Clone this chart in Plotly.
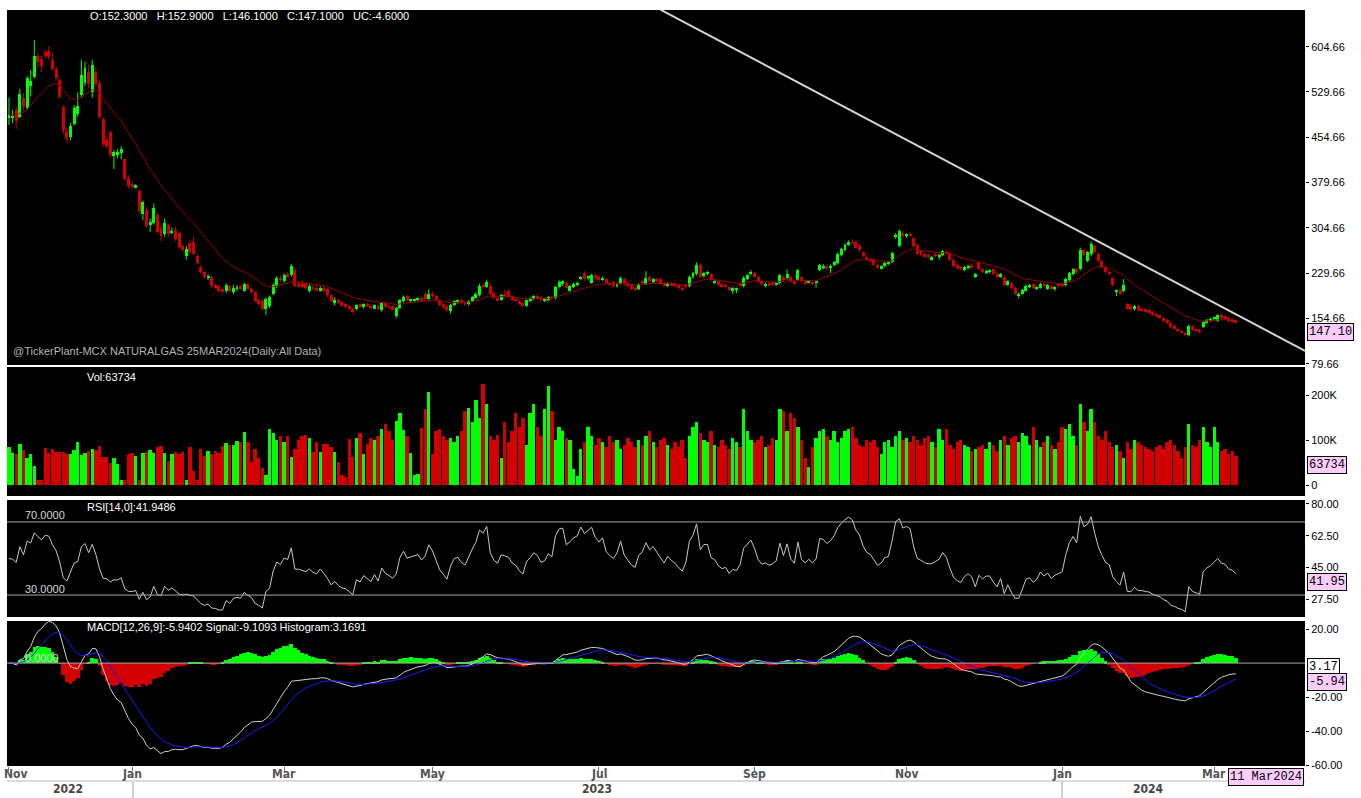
import numpy as np
import plotly.graph_objects as go
from plotly.subplots import make_subplots

# ---------------- data (daily bars, index 0 = mid Nov 2022 ... 339 = 11 Mar 2024) -------------
open_ = [
    486, 488, 500, 489, 520, 503, 540, 555, 590, 585,
    596, 598, 583, 568, 550, 505, 465, 455, 477, 493,
    525, 545, 562, 530, 563, 545, 485, 450, 463, 423,
    425, 428, 418, 388, 378, 372, 365, 328, 335, 310,
    313, 326, 305, 294, 310, 297, 302, 296, 274, 258,
    280, 282, 258, 240, 231, 222, 224, 210, 208, 203,
    200, 208, 199, 203, 208, 201, 211, 204, 198, 185,
    184, 170, 175, 196, 208, 222, 217, 228, 226, 235,
    212, 214, 211, 200, 207, 205, 201, 206, 203, 193,
    180, 186, 182, 178, 176, 171, 170, 178, 173, 179,
    176, 171, 176, 169, 181, 176, 175, 159, 172, 183,
    192, 184, 184, 186, 188, 196, 187, 195, 192, 185,
    178, 175, 167, 177, 182, 185, 181, 178, 184, 189,
    194, 209, 207, 209, 197, 188, 185, 196, 200, 192,
    186, 184, 180, 176, 184, 187, 191, 190, 185, 185,
    190, 188, 207, 212, 214, 201, 207, 210, 221, 230,
    222, 214, 226, 224, 219, 220, 214, 215, 209, 212,
    220, 214, 210, 206, 203, 216, 212, 224, 215, 220,
    220, 214, 210, 213, 212, 210, 206, 209, 208, 223,
    228, 244, 225, 229, 228, 214, 216, 212, 210, 207,
    200, 202, 214, 208, 220, 229, 230, 223, 216, 208,
    213, 214, 211, 213, 224, 221, 224, 216, 219, 224,
    216, 215, 214, 214, 235, 238, 240, 238, 243, 246,
    259, 268, 277, 281, 282, 276, 264, 257, 254, 252,
    244, 238, 241, 245, 248, 289, 275, 297, 292, 294,
    288, 276, 266, 262, 260, 253, 262, 256, 260, 265,
    263, 252, 244, 240, 235, 238, 243, 225, 248, 236,
    230, 232, 236, 228, 224, 224, 210, 213, 205, 192,
    196, 201, 208, 211, 205, 206, 212, 204, 208, 203,
    212, 210, 210, 218, 228, 236, 236, 268, 250, 262,
    275, 262, 250, 240, 232, 222, 200, 202, 200, 178,
    176, 170, 176, 170, 170, 168, 166, 162, 160, 155,
    153, 148, 142, 138, 134, 131, 127, 142, 136, 136,
    141, 148, 151, 155, 151, 160, 158, 156, 153, 152.3,
]
high = [
    520, 500, 505, 535, 528, 556, 566, 616, 596, 590,
    600, 606, 596, 572, 553, 508, 470, 478, 508, 529,
    583, 580, 575, 583, 570, 548, 487, 455, 466, 434,
    435, 440, 420, 392, 380, 377, 368, 350, 340, 320,
    345, 330, 310, 320, 312, 305, 306, 298, 278, 275,
    285, 290, 260, 243, 233, 228, 226, 212, 210, 206,
    213, 211, 210, 210, 211, 214, 214, 206, 200, 188,
    186, 190, 193, 213, 225, 226, 230, 231, 245, 238,
    216, 218, 214, 212, 210, 211, 208, 209, 205, 195,
    190, 188, 184, 180, 178, 173, 178, 180, 180, 181,
    178, 178, 178, 181, 183, 178, 176, 174, 187, 193,
    194, 187, 188, 190, 190, 199, 203, 199, 194, 187,
    180, 177, 179, 185, 186, 187, 183, 185, 192, 198,
    212, 213, 219, 213, 199, 190, 195, 202, 203, 194,
    188, 186, 182, 186, 190, 194, 195, 192, 188, 192,
    193, 209, 218, 218, 216, 210, 214, 216, 225, 233,
    226, 229, 228, 226, 224, 222, 216, 217, 214, 224,
    222, 216, 212, 208, 213, 219, 233, 226, 222, 222,
    222, 216, 215, 215, 214, 212, 208, 211, 226, 232,
    248, 246, 232, 233, 230, 218, 218, 214, 212, 209,
    207, 206, 216, 225, 228, 235, 232, 225, 218, 214,
    215, 216, 215, 228, 226, 236, 226, 218, 237, 226,
    218, 218, 216, 218, 245, 245, 244, 244, 250, 264,
    272, 279, 284, 286, 284, 278, 266, 259, 256, 254,
    246, 243, 248, 250, 265, 296, 302, 300, 296, 297,
    290, 278, 268, 264, 262, 258, 264, 262, 268, 269,
    265, 254, 246, 242, 242, 244, 246, 230, 250, 238,
    236, 236, 238, 231, 230, 226, 218, 215, 207, 198,
    204, 211, 212, 213, 208, 214, 214, 212, 210, 208,
    214, 212, 222, 232, 238, 238, 272, 270, 266, 282,
    277, 264, 252, 242, 234, 224, 203, 204, 220, 180,
    178, 177, 178, 172, 172, 170, 168, 164, 162, 157,
    155, 150, 144, 140, 136, 133, 145, 144, 138, 138,
    151, 154, 156, 158, 162, 163, 160, 158, 155, 152.9,
]
low = [
    475, 478, 468, 486, 498, 500, 522, 552, 570, 563,
    585, 582, 565, 548, 518, 460, 445, 450, 474, 488,
    520, 540, 536, 520, 538, 485, 438, 436, 420, 402,
    420, 418, 383, 370, 368, 370, 330, 318, 305, 298,
    310, 295, 283, 290, 290, 294, 283, 270, 265, 252,
    262, 260, 245, 230, 220, 218, 205, 203, 198, 196,
    197, 198, 195, 200, 202, 199, 202, 196, 182, 176,
    168, 160, 172, 193, 205, 215, 214, 222, 224, 207,
    206, 205, 202, 198, 201, 200, 199, 198, 190, 181,
    176, 178, 174, 172, 168, 163, 168, 172, 171, 173,
    170, 170, 168, 166, 172, 170, 168, 155, 170, 181,
    183, 180, 181, 183, 182, 184, 185, 189, 183, 175,
    170, 166, 163, 175, 179, 178, 176, 176, 182, 187,
    191, 204, 205, 193, 186, 183, 184, 190, 189, 184,
    182, 177, 174, 174, 182, 185, 187, 183, 182, 183,
    186, 186, 204, 208, 203, 199, 205, 208, 218, 217,
    218, 212, 218, 216, 217, 211, 208, 206, 206, 211,
    210, 206, 202, 200, 201, 212, 210, 215, 213, 214,
    210, 206, 207, 208, 206, 204, 200, 206, 206, 221,
    226, 222, 222, 226, 216, 212, 208, 206, 206, 200,
    195, 197, 206, 206, 218, 226, 223, 213, 209, 206,
    209, 209, 209, 211, 215, 219, 214, 210, 217, 214,
    210, 213, 210, 206, 233, 236, 236, 230, 241, 244,
    257, 266, 275, 276, 270, 266, 256, 250, 248, 242,
    237, 236, 239, 243, 246, 287, 273, 288, 288, 290,
    272, 260, 258, 255, 254, 250, 256, 252, 258, 260,
    250, 240, 236, 234, 233, 236, 237, 222, 234, 230,
    228, 229, 226, 221, 222, 208, 208, 203, 194, 188,
    194, 199, 205, 203, 202, 204, 206, 202, 202, 200,
    206, 206, 208, 216, 226, 228, 234, 258, 248, 258,
    262, 248, 238, 229, 226, 208, 192, 194, 198, 169,
    168, 168, 166, 166, 164, 163, 159, 156, 154, 149,
    146, 138, 136, 132, 130, 125, 125, 134, 132, 130,
    139, 146, 149, 152, 149, 154, 153, 149, 148, 146.1,
]
close = [
    492, 490, 481, 527, 505, 553, 548, 590, 580, 572,
    590, 588, 568, 553, 522, 465, 452, 474, 503, 507,
    558, 570, 543, 575, 543, 488, 443, 440, 425, 431,
    430, 436, 386, 374, 373, 375, 332, 347, 308, 314,
    338, 298, 291, 313, 295, 300, 286, 273, 268, 270,
    265, 262, 247, 232, 223, 225, 208, 206, 200, 199,
    210, 200, 206, 207, 205, 211, 204, 199, 184, 179,
    171, 187, 190, 210, 222, 218, 227, 225, 242, 209,
    209, 207, 205, 208, 203, 201, 206, 200, 193, 183,
    186, 180, 176, 175, 170, 166, 177, 174, 179, 175,
    172, 177, 170, 180, 174, 172, 169, 172, 185, 191,
    185, 186, 187, 188, 184, 187, 196, 192, 185, 177,
    173, 168, 177, 183, 184, 180, 178, 184, 190, 196,
    209, 207, 215, 195, 188, 185, 193, 192, 191, 186,
    184, 179, 176, 185, 188, 192, 190, 185, 186, 191,
    189, 207, 215, 216, 205, 208, 212, 214, 224, 220,
    224, 227, 221, 218, 222, 213, 210, 208, 212, 222,
    212, 208, 204, 202, 211, 214, 222, 217, 220, 216,
    212, 208, 213, 210, 208, 205, 202, 207, 224, 230,
    244, 224, 230, 230, 218, 216, 210, 207, 208, 202,
    205, 204, 208, 222, 226, 230, 224, 215, 211, 212,
    210, 211, 213, 227, 218, 229, 216, 212, 235, 216,
    212, 216, 212, 216, 243, 242, 238, 242, 249, 262,
    270, 277, 282, 280, 272, 268, 258, 252, 250, 244,
    239, 241, 246, 247, 263, 293, 299, 291, 294, 292,
    275, 262, 260, 257, 256, 256, 258, 260, 266, 262,
    252, 242, 238, 236, 240, 242, 239, 228, 236, 232,
    234, 234, 228, 223, 228, 210, 216, 205, 196, 196,
    202, 209, 210, 205, 207, 212, 208, 210, 205, 207,
    208, 209, 220, 230, 236, 232, 268, 260, 264, 278,
    264, 250, 240, 231, 228, 210, 202, 196, 210, 171,
    170, 175, 168, 168, 166, 165, 161, 158, 156, 151,
    148, 140, 138, 134, 132, 127, 143, 136, 134, 132,
    149, 152, 154, 157, 160, 156, 155, 151, 150, 147.1,
]
volume_k = [
    85, 72, 70, 92, 78, 61, 70, 42, 11, 11,
    83, 72, 80, 74, 74, 74, 70, 70, 78, 96,
    67, 72, 75, 79, 78, 87, 63, 63, 48, 59,
    46, 11, 11, 70, 72, 65, 11, 72, 74, 78,
    72, 85, 87, 72, 53, 70, 74, 68, 74, 11,
    85, 31, 11, 81, 65, 75, 70, 75, 72, 87,
    94, 89, 89, 98, 95, 117, 95, 52, 80, 59,
    37, 22, 124, 115, 100, 110, 96, 109, 63, 80,
    100, 110, 111, 105, 74, 95, 74, 92, 92, 85,
    74, 52, 22, 18, 102, 63, 105, 115, 70, 92,
    104, 100, 110, 125, 135, 120, 100, 142, 159, 122,
    110, 72, 22, 24, 126, 170, 206, 70, 120, 125,
    110, 100, 105, 95, 110, 120, 165, 172, 140, 190,
    150, 225, 180, 110, 100, 112, 60, 140, 95, 120,
    160, 130, 150, 90, 160, 180, 130, 110, 170, 220,
    165, 100, 130, 120, 105, 100, 35, 20, 80, 95,
    130, 110, 90, 105, 95, 85, 110, 95, 100, 80,
    90, 105, 95, 85, 100, 90, 110, 120, 95, 85,
    100, 105, 90, 80, 95, 85, 100, 60, 110, 130,
    140, 115, 100, 95, 120, 90, 85, 100, 90, 80,
    105, 95, 85, 170, 120, 100, 95, 100, 110, 85,
    90, 105, 100, 170, 165, 120, 160, 150, 130, 100,
    60, 40, 85, 105, 120, 125, 110, 100, 120, 95,
    105, 120, 125, 130, 105, 90, 85, 100, 95, 100,
    85, 70, 95, 100, 85, 110, 120, 100, 105, 95,
    110, 100, 90, 105, 110, 95, 85, 125, 100, 125,
    90, 80, 95, 100, 90, 85, 75, 80, 85, 90,
    80, 95, 90, 75, 100, 110, 90, 105, 110, 95,
    115, 110, 90, 130, 100, 85, 95, 110, 90, 80,
    95, 130, 125, 135, 110, 90, 180, 140, 120, 170,
    140, 110, 100, 120, 95, 85, 90, 75, 60, 95,
    80, 100, 95, 90, 85, 80, 75, 85, 90, 80,
    95, 100, 90, 75, 60, 85, 135, 90, 85, 100,
    130, 95, 85, 130, 95, 75, 80, 70, 75, 63.734,
]
month_ticks = [0, 34, 76, 117, 163, 206, 248, 291, 333]
month_labels = ["Nov", "Jan", "Mar", "May", "Jul", "Sep", "Nov", "Jan", "Mar"]
year_labels = ["2022", "2023", "2024"]
price_ticks = [79.66, 154.66, 229.66, 304.66, 379.66, 454.66, 529.66, 604.66]
vol_ticks = [0, 100000, 200000]
vol_ticktext = ["0", "100K", "200K"]
rsi_ticks = [27.5, 45.0, 62.5, 80.0]
macd_ticks = [-60, -40, -20, 20]
trend_x = [180, 358.1]
trend_y = [666, 101]
ma_period = 18
rsi_period = 14

n = len(close)
assert len(open_) == n == len(high) == len(low) == len(volume_k) == 340

# ---------------- indicators -----------------
idx = np.arange(n)
o = np.array(open_, float); h = np.array(high, float)
l = np.array(low, float); c = np.array(close, float)
vol = np.array(volume_k, float) * 1000


def ema(x, p):
    a = 2.0 / (p + 1)
    out = [x[0]]
    for v in x[1:]:
        out.append(a * v + (1 - a) * out[-1])
    return np.array(out)


ma = ema(c, ma_period)
d = np.diff(c)
ag = al = np.mean(np.abs(d[:rsi_period])) / 2
rsi = [50.0]
for dv in d:
    ag = (ag * (rsi_period - 1) + max(dv, 0)) / rsi_period
    al = (al * (rsi_period - 1) + max(-dv, 0)) / rsi_period
    rsi.append(100 * ag / (ag + al))
rsi = np.array(rsi)
macd = ema(c, 12) - ema(c, 26)
signal = ema(macd, 9)
hist = macd - signal

GREEN = "#00ff00"
RED = "#d20000"
up = c >= o
cols = np.where(up, GREEN, RED)

fig = make_subplots(rows=4, cols=1, shared_xaxes=True, vertical_spacing=0.0)


def wicks(mask):
    xs, ys = [], []
    for i in idx[mask]:
        xs += [int(i), int(i), None]
        ys += [l[i], h[i], None]
    return xs, ys


for mask, col in ((up, GREEN), (~up, RED)):
    wx, wy = wicks(mask)
    fig.add_trace(go.Scatter(x=wx, y=wy, mode="lines", line=dict(color=col, width=1),
                             hoverinfo="skip"), row=1, col=1)
fig.add_trace(go.Bar(x=idx, y=np.maximum(np.abs(c - o), 1.2), base=np.minimum(o, c),
                     width=0.82, marker=dict(color=cols, line=dict(width=0))), row=1, col=1)
fig.add_trace(go.Scatter(x=idx, y=ma, mode="lines", line=dict(color="#9c0000", width=1)), row=1, col=1)
fig.add_trace(go.Scatter(x=trend_x, y=trend_y, mode="lines", line=dict(color="#d4d4d4", width=2)), row=1, col=1)

fig.add_trace(go.Bar(x=idx, y=vol, width=0.92, marker=dict(color=cols, line=dict(width=0))), row=2, col=1)

fig.add_trace(go.Scatter(x=idx, y=rsi, mode="lines", line=dict(color="#c8c8c8", width=1)), row=3, col=1)

fig.add_trace(go.Bar(x=idx, y=hist, width=1.0,
                     marker=dict(color=np.where(hist >= 0, GREEN, RED), line=dict(width=0))), row=4, col=1)
fig.add_trace(go.Scatter(x=idx, y=macd, mode="lines", line=dict(color="#d0d0d0", width=1)), row=4, col=1)
fig.add_trace(go.Scatter(x=idx, y=signal, mode="lines", line=dict(color="#1c1cff", width=1)), row=4, col=1)

# ---------------- layout -----------------
W, H = 1361, 798
L, R, T, B = 7, 56, 10, 32
PW, PH = W - L - R, H - T - B


def px(x):
    return (x - L) / PW


def py(y):
    return 1 - (y - T) / PH


def dom(y0, y1):
    return [py(y1), py(y0)]


TXT = "Liberation Sans, Arial, sans-serif"
NARROW = "Liberation Sans Narrow, DejaVu Sans Condensed, Arial Narrow, sans-serif"
xr = [-0.55, 358.1]

fig.update_layout(
    width=W, height=H, margin=dict(l=L, r=R, t=T, b=B),
    paper_bgcolor="white", plot_bgcolor="black", showlegend=False,
    barmode="overlay", bargap=0, font=dict(family=TXT, size=11, color="black"),
)
for k in range(1, 5):
    fig.update_xaxes(range=xr, showgrid=False, zeroline=False, showline=False,
                     showticklabels=False, ticks="", row=k, col=1)
fig.update_xaxes(tickmode="array", tickvals=month_ticks, ticks="outside", ticklen=4,
                 tickcolor="#777", tickwidth=1, showticklabels=False, row=4, col=1)

yax_common = dict(side="right", showgrid=False, zeroline=False, showline=False, ticks="outside",
                  ticklen=3, tickcolor="black", tickfont=dict(family=TXT, size=11, color="black"))
fig.update_yaxes(domain=dom(10, 365), range=[77.7, 665.4], tickvals=price_ticks,
                 ticktext=["%.2f" % v for v in price_ticks], row=1, col=1, **yax_common)
fig.update_yaxes(domain=dom(367, 496), range=[-24400, 262200], tickvals=vol_ticks,
                 ticktext=vol_ticktext, row=2, col=1, **yax_common)
fig.update_yaxes(domain=dom(500, 617), range=[18.0, 82.0], tickvals=rsi_ticks,
                 ticktext=["%.2f" % v for v in rsi_ticks], row=3, col=1, **yax_common)
fig.update_yaxes(domain=dom(621, 766), range=[-60.4, 24.7], tickvals=macd_ticks,
                 ticktext=["%.2f" % v for v in macd_ticks], row=4, col=1, **yax_common)

shapes = []
for yv in (70, 30):
    shapes.append(dict(type="line", xref="x3 domain", x0=0, x1=1, yref="y3", y0=yv, y1=yv,
                       line=dict(color="#a8a8a8", width=1)))
shapes.append(dict(type="line", xref="x4 domain", x0=0, x1=1, yref="y4", y0=0, y1=0,
                   line=dict(color="#a8a8a8", width=1)))
shapes.append(dict(type="line", xref="paper", yref="paper", x0=px(7), x1=px(1305), y0=py(781), y1=py(781),
                   line=dict(color="#b8b8b8", width=1)))
for xv in (133, 1062):
    shapes.append(dict(type="line", xref="paper", yref="paper", x0=px(xv), x1=px(xv), y0=py(782), y1=py(798),
                       line=dict(color="#a0a0a0", width=1)))
fig.update_layout(shapes=shapes)

NB = "\u00a0"
ann = []


def text(x, y, s, color="white", size=11, family=TXT, anchor="left", weight="normal"):
    ann.append(dict(x=px(x), y=py(y), xref="paper", yref="paper", text=s, showarrow=False,
                    xanchor=anchor, yanchor="middle",
                    font=dict(family=family, size=size, color=color, weight=weight)))


text(88, 16, ("O:152.3000" + NB * 3 + "H:152.9000" + NB * 3 + "L:146.1000" + NB * 3 +
              "C:147.1000" + NB * 3 + "UC:-4.6000"))
text(11, 351, "@TickerPlant-MCX NATURALGAS 25MAR2024(Daily:All Data)", color="#b4b4b4")
text(85, 377, "Vol:63734")
text(85, 507, "RSI[14,0]:41.9486")
text(23, 515, "70.0000", color="#d8d8d8")
text(23, 589, "30.0000", color="#d8d8d8")
text(85, 627, "MACD[12,26,9]:-5.9402 Signal:-9.1093 Histogram:3.1691")
text(23, 658, "0.0000", color="#d8d8d8")

# month labels (data x) and year labels
for k, (tv, s) in enumerate(zip(month_ticks, month_labels)):
    ann.append(dict(x=tv, y=py(774), xref="x4", yref="paper", text=s, showarrow=False,
                    xanchor="center", yanchor="middle", xshift=7 if k == 0 else 0,
                    font=dict(family=NARROW, size=12, color="#555", weight="bold")))
for s, xv in zip(year_labels, (68, 597, 1148)):
    text(xv, 789, s, color="#444", size=12, family=NARROW, anchor="center", weight="bold")


def box(yref, yv, s, bg="#ffccff"):
    ann.append(dict(x=px(1307), y=yv, xref="paper", yref=yref, text=s, showarrow=False,
                    xanchor="left", yanchor="top", bgcolor=bg, bordercolor="black", borderwidth=1,
                    borderpad=1, font=dict(family="Liberation Mono, DejaVu Sans Mono, monospace",
                                           size=12, color="black")))


box("y", close[-1], "%.2f" % close[-1])
box("y2", volume_k[-1] * 1000, "63734")
box("y3", 41.95, "41.95")
box("y4", 3.17, "3.17", bg="white")
box("y4", -5.94, "-5.94")
ann.append(dict(x=px(1228), y=py(768), xref="paper", yref="paper", text="11 Mar2024", showarrow=False,
                xanchor="left", yanchor="top", bgcolor="#ffccff", bordercolor="black", borderwidth=1,
                borderpad=1, font=dict(family="Liberation Mono, DejaVu Sans Mono, monospace",
                                       size=12, color="black")))
fig.update_layout(annotations=ann)

fig.write_html("out.html", config={"displayModeBar": False},
               post_script="document.body.style.margin='0';document.body.style.overflow='hidden';")
